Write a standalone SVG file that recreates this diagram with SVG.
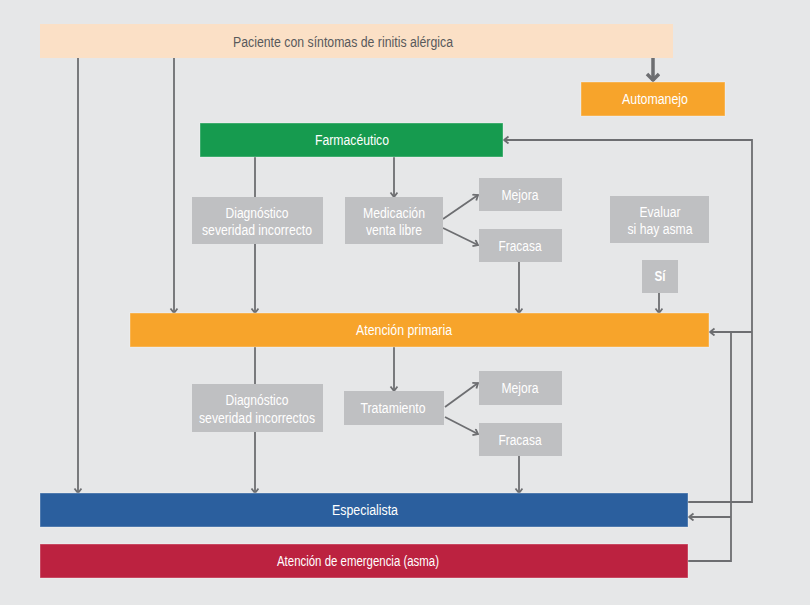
<svg xmlns="http://www.w3.org/2000/svg" width="810" height="605" viewBox="0 0 810 605">
<defs>
<style>
text{font-family:"Liberation Sans",Arial,sans-serif;font-size:14px;fill:#fff;text-anchor:middle}
.dark{fill:#58595b}
.b{stroke:#fff;stroke-opacity:.35;stroke-width:1}
.gray{fill:#bfc0c2}
.c{fill:none;stroke:#6d6e71;stroke-width:1.8}
.a{marker-end:url(#arr)}
</style>
<marker id="arr" markerUnits="userSpaceOnUse" markerWidth="10" markerHeight="10" refX="6" refY="4" orient="auto">
<path d="M1.5,0.5 L6,4 L1.5,7.5" fill="none" stroke="#6d6e71" stroke-width="1.8"/>
</marker>
<marker id="arrT" markerUnits="userSpaceOnUse" markerWidth="16" markerHeight="16" refX="9" refY="7" orient="auto">
<path d="M2,1 L8,7 L2,13" fill="none" stroke="#6d6e71" stroke-width="3.5"/>
</marker>
</defs>
<rect width="810" height="605" fill="#e6e7e8"/>
<g id="connectors">
<path class="c a" d="M78,58 V493"/>
<path class="c a" d="M174,58 V313"/>
<path d="M653,58 V81" fill="none" stroke="#6d6e71" stroke-width="3.5" marker-end="url(#arrT)"/>
<path class="c" d="M255,157 V197"/>
<path class="c a" d="M255,244 V313"/>
<path class="c a" d="M394,157 V197"/>
<path class="c a" d="M443,219 L478,195"/>
<path class="c a" d="M443,228 L478,245"/>
<path class="c a" d="M519,262 V313"/>
<path class="c a" d="M659,293 V313"/>
<path class="c" d="M255,347 V384"/>
<path class="c a" d="M255,432 V493"/>
<path class="c a" d="M394,347 V391"/>
<path class="c a" d="M445,407 L478,383"/>
<path class="c a" d="M445,417 L478,434"/>
<path class="c a" d="M519,456 V493"/>
<path class="c a" d="M688,502 H752 V140 H504"/>
<path class="c a" d="M752,332 H710"/>
<path class="c" d="M688,561 H731 V332"/>
<path class="c a" d="M731,517 H689"/>
</g>
<g id="paciente"><rect x="40" y="24" width="633" height="34" fill="#fbe0c6"/><text class="dark" x="343" y="47" textLength="220" lengthAdjust="spacingAndGlyphs">Paciente con síntomas de rinitis alérgica</text></g>
<g id="automanejo"><rect class="b" x="581" y="82" width="144" height="34" fill="#f7a42b"/><text x="655" y="104" textLength="66" lengthAdjust="spacingAndGlyphs">Automanejo</text></g>
<g id="farmaceutico"><rect class="b" x="200" y="123" width="303" height="34" fill="#169b4f"/><text x="352" y="145" textLength="74" lengthAdjust="spacingAndGlyphs">Farmacéutico</text></g>
<g id="diag1"><rect class="gray" x="192" y="197" width="131" height="47"/><text x="257" y="218" textLength="63" lengthAdjust="spacingAndGlyphs">Diagnóstico</text><text x="257" y="235" textLength="110" lengthAdjust="spacingAndGlyphs">severidad incorrecto</text></g>
<g id="medicacion"><rect class="gray" x="345" y="197" width="98" height="47"/><text x="394" y="218" textLength="62" lengthAdjust="spacingAndGlyphs">Medicación</text><text x="394" y="235" textLength="56" lengthAdjust="spacingAndGlyphs">venta libre</text></g>
<g id="mejora1"><rect class="gray" x="479" y="178" width="83" height="33"/><text x="520" y="200" textLength="37" lengthAdjust="spacingAndGlyphs">Mejora</text></g>
<g id="fracasa1"><rect class="gray" x="479" y="229" width="83" height="33"/><text x="520" y="251" textLength="43" lengthAdjust="spacingAndGlyphs">Fracasa</text></g>
<g id="evaluar"><rect class="gray" x="610" y="196" width="99" height="47"/><text x="660" y="217" textLength="41" lengthAdjust="spacingAndGlyphs">Evaluar</text><text x="660" y="234" textLength="65" lengthAdjust="spacingAndGlyphs">si hay asma</text></g>
<g id="si"><rect class="gray" x="642" y="260" width="36" height="33"/><text x="660" y="281" font-weight="bold" textLength="11" lengthAdjust="spacingAndGlyphs">Sí</text></g>
<g id="atencion-primaria"><rect class="b" x="130" y="313" width="579" height="34" fill="#f7a42b"/><text x="404" y="335" textLength="96" lengthAdjust="spacingAndGlyphs">Atención primaria</text></g>
<g id="diag2"><rect class="gray" x="192" y="384" width="131" height="48"/><text x="257" y="405" textLength="63" lengthAdjust="spacingAndGlyphs">Diagnóstico</text><text x="257" y="423" textLength="116" lengthAdjust="spacingAndGlyphs">severidad incorrectos</text></g>
<g id="tratamiento"><rect class="gray" x="344" y="391" width="100" height="34"/><text x="393" y="413" textLength="65" lengthAdjust="spacingAndGlyphs">Tratamiento</text></g>
<g id="mejora2"><rect class="gray" x="479" y="371" width="83" height="34"/><text x="520" y="393" textLength="37" lengthAdjust="spacingAndGlyphs">Mejora</text></g>
<g id="fracasa2"><rect class="gray" x="479" y="423" width="83" height="33"/><text x="520" y="445" textLength="43" lengthAdjust="spacingAndGlyphs">Fracasa</text></g>
<g id="especialista"><rect class="b" x="40" y="493" width="648" height="34" fill="#2b5f9e"/><text x="365" y="515" textLength="66" lengthAdjust="spacingAndGlyphs">Especialista</text></g>
<g id="emergencia"><rect class="b" x="40" y="544" width="648" height="34" fill="#bc2240"/><text x="358" y="566" textLength="162" lengthAdjust="spacingAndGlyphs">Atención de emergencia (asma)</text></g>
</svg>
